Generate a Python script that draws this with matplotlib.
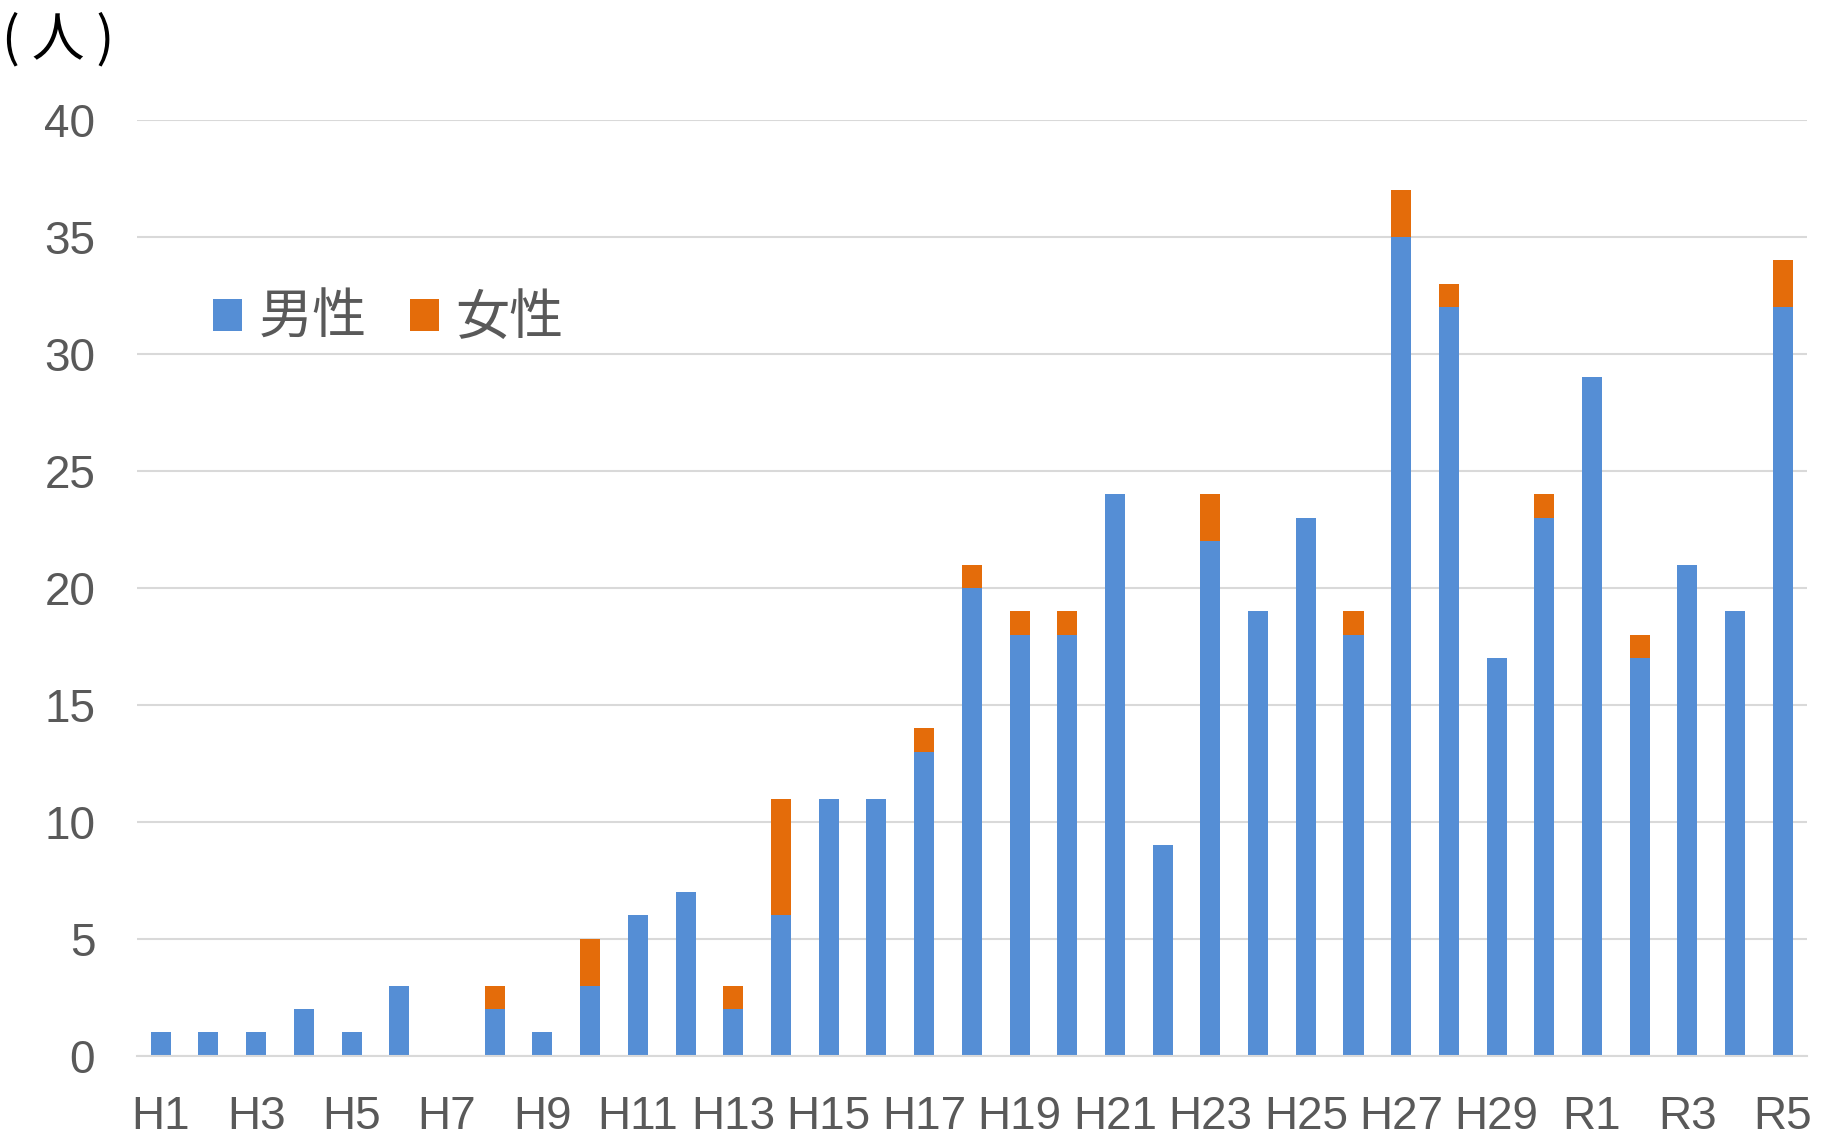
import numpy as np
import matplotlib
matplotlib.use("Agg")
import matplotlib.pyplot as plt
from matplotlib.patches import Patch

plt.rcParams['font.family'] = ['Liberation Sans', 'Noto Sans CJK JP', 'DejaVu Sans']

# years: Heisei 1-30, Reiwa 1-5
years = [f"H{i}" for i in range(1, 31)] + [f"R{i}" for i in range(1, 6)]
male = [1, 1, 1, 2, 1, 3, 0, 2, 1, 3,
        6, 7, 2, 6, 11, 11, 13, 20, 18, 18,
        24, 9, 22, 19, 23, 18, 35, 32, 17, 23,
        29, 17, 21, 19, 32]
female = [0, 0, 0, 0, 0, 0, 0, 1, 0, 2,
          0, 0, 1, 5, 0, 0, 1, 1, 1, 1,
          0, 0, 2, 0, 0, 1, 2, 1, 0, 1,
          0, 1, 0, 0, 2]
series_names = ["男性", "女性"]
colors = ["#558ED5", "#E46C0A"]
text_gray = "#595959"
grid_gray = "#D9D9D9"

fig = plt.figure(figsize=(18.25, 11.39), dpi=100)
ax = fig.add_axes([0.075, 0.073, 0.915, 0.8216])

x = np.arange(len(years))
w = 0.42
ax.bar(x, male, width=w, color=colors[0], zorder=3)
ax.bar(x, female, width=w, bottom=male, color=colors[1], zorder=3)

ax.set_xlim(-0.5, len(years) - 0.5)
ax.set_ylim(0, 40)
ax.set_yticks(range(0, 41, 5))
ax.set_xticks(x[::2])
ax.set_xticklabels(years[::2])

ax.grid(axis='y', color=grid_gray, linewidth=1.5, zorder=0)
for s in ['top', 'right', 'left']:
    ax.spines[s].set_visible(False)
ax.spines['bottom'].set_color(grid_gray)
ax.spines['bottom'].set_linewidth(1.5)
ax.spines['bottom'].set_zorder(4)

ax.tick_params(axis='both', length=0, labelsize=33, labelcolor=text_gray)
ax.tick_params(axis='y', pad=30)
ax.tick_params(axis='x', pad=28)

handles = [Patch(facecolor=c, edgecolor='none') for c in colors]
fig.legend(handles, series_names, loc='center left',
           bbox_to_anchor=(0.105, 0.7195), ncol=2, frameon=False,
           fontsize=39, labelcolor=text_gray,
           handlelength=0.53, handleheight=0.53,
           handletextpad=0.3, columnspacing=0.8, borderaxespad=0)

fig.text(0.001, 0.965, "( 人 )", fontsize=38, color='black',
         ha='left', va='center', family=['Noto Sans CJK JP'])

fig.savefig("out.png", dpi=100)
